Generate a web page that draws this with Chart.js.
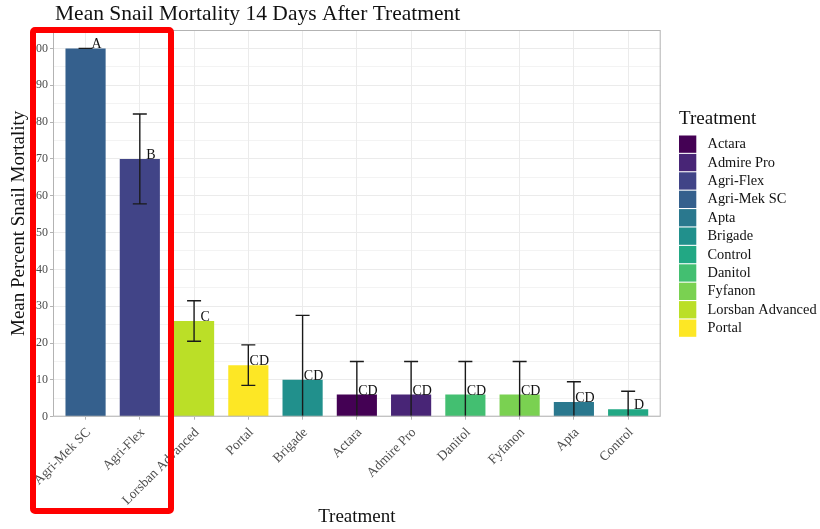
<!DOCTYPE html>
<html>
<head>
<meta charset="utf-8">
<script src="https://cdn.jsdelivr.net/npm/chart.js@4"></script>
<style>
  body { margin: 0; background: #fff; }
  #wrap { position: relative; width: 820px; height: 529px; }
  #redBox {
    position: absolute; left: 30px; top: 27px; width: 144px; height: 487px;
    box-sizing: border-box; border: 6px solid #ff0000; border-radius: 5px;
    pointer-events: none;
  }
</style>
</head>
<body>
<div id="wrap">
  <canvas id="mortalityChart" width="820" height="529"></canvas>
  <div id="redBox"></div>
</div>
<script>
// data
var treatments = ['Agri-Mek SC', 'Agri-Flex', 'Lorsban Advanced', 'Portal', 'Brigade', 'Actara',
                  'Admire Pro', 'Danitol', 'Fyfanon', 'Apta', 'Control'];
var meanMortality = [100, 70, 26, 14, 10, 6, 6, 6, 6, 4, 2];
var errMortality = [0, 12.2, 5.5, 5.5, 17.5, 9, 9, 9, 9, 5.5, 4.9];
var groupLetters = ['A', 'B', 'C', 'CD', 'CD', 'CD', 'CD', 'CD', 'CD', 'CD', 'D'];
var barColors = ['#35608D', '#414487', '#BBDF27', '#FDE725', '#21908C', '#440154',
                 '#482576', '#43BF71', '#7AD151', '#2A788E', '#22A884'];
var legendOrder = ['Actara', 'Admire Pro', 'Agri-Flex', 'Agri-Mek SC', 'Apta', 'Brigade',
                   'Control', 'Danitol', 'Fyfanon', 'Lorsban Advanced', 'Portal'];
var yTicks = [0, 5, 10, 15, 20, 25, 30, 35, 40, 45, 50, 55, 60, 65, 70, 75, 80, 85, 90, 95, 100];

var serif = '"Liberation Serif", "DejaVu Serif", serif';

// error bars, letters, title, legend and panel border
var extrasPlugin = {
    id: 'extras',
    afterDatasetsDraw: function(chart) {
        var ctx = chart.ctx;
        var xs = chart.scales.x, ys = chart.scales.y;
        var area = chart.chartArea;
        ctx.save();
        ctx.beginPath();
        ctx.rect(area.left, area.top, area.right - area.left, area.bottom - area.top);
        ctx.clip();
        ctx.strokeStyle = '#1a1a1a';
        ctx.lineWidth = 1.4;
        for (var i = 0; i < treatments.length; i++) {
            var x = xs.getPixelForValue(i);
            var yHi = ys.getPixelForValue(meanMortality[i] + errMortality[i]);
            var yLo = ys.getPixelForValue(meanMortality[i] - errMortality[i]);
            ctx.beginPath();
            ctx.moveTo(x, yHi); ctx.lineTo(x, yLo);
            ctx.moveTo(x - 7, yHi); ctx.lineTo(x + 7, yHi);
            ctx.moveTo(x - 7, yLo); ctx.lineTo(x + 7, yLo);
            ctx.stroke();
        }
        ctx.restore();

        ctx.save();
        ctx.fillStyle = '#111';
        ctx.font = '14px ' + serif;
        ctx.textAlign = 'center';
        ctx.textBaseline = 'alphabetic';
        for (var j = 0; j < treatments.length; j++) {
            ctx.fillText(groupLetters[j], xs.getPixelForValue(j) + 11, ys.getPixelForValue(meanMortality[j]));
        }
        ctx.restore();
    },
    afterDraw: function(chart) {
        var ctx = chart.ctx;
        var area = chart.chartArea;
        ctx.save();
        ctx.strokeStyle = '#b3b3b3';
        ctx.lineWidth = 1;
        ctx.strokeRect(area.left + 0.5, area.top + 0.5, area.right - area.left - 1, area.bottom - area.top - 1);

        // title
        ctx.fillStyle = '#111';
        ctx.font = '21.5px ' + serif;
        ctx.textAlign = 'left';
        ctx.textBaseline = 'alphabetic';
        ctx.fillText('Mean Snail Mortality 14 Days After Treatment', 55, 20);

        // legend
        ctx.font = '19px ' + serif;
        ctx.textBaseline = 'middle';
        ctx.fillText('Treatment', 679, 119);
        ctx.font = '14.4px ' + serif;
        for (var k = 0; k < legendOrder.length; k++) {
            var top = 135.5 + k * 18.4;
            ctx.fillStyle = barColors[treatments.indexOf(legendOrder[k])];
            ctx.fillRect(679, top, 17.3, 17.3);
            ctx.fillStyle = '#111';
            ctx.fillText(legendOrder[k], 707.5, top + 9);
        }
        ctx.restore();
    }
};

var chart = new Chart(document.getElementById('mortalityChart').getContext('2d'), {
    type: 'bar',
    data: {
        datasets: [{
            data: treatments.map(function(t, i) { return {x: i, y: meanMortality[i]}; }),
            backgroundColor: barColors,
            borderWidth: 0,
            categoryPercentage: 1,
            barPercentage: 0.74
        }]
    },
    options: {
        responsive: false,
        animation: false,
        layout: { padding: { top: 30, right: 159.3, left: 0, bottom: 0 } },
        plugins: {
            legend: { display: false },
            tooltip: { enabled: false }
        },
        scales: {
            x: {
                type: 'linear',
                offset: false,
                min: -0.6,
                max: 10.6,
                afterBuildTicks: function(axis) {
                    axis.ticks = treatments.map(function(t, i) { return {value: i}; });
                },
                afterFit: function(axis) { axis.height = 112.3; },
                grid: { offset: false, color: '#ebebeb', lineWidth: 1, tickLength: 3, tickColor: '#b3b3b3' },
                border: { display: false },
                ticks: {
                    autoSkip: false,
                    minRotation: 45,
                    maxRotation: 45,
                    padding: 5,
                    labelOffset: 3,
                    color: '#4d4d4d',
                    font: { family: serif, size: 13.5 },
                    callback: function(v) { return treatments[v]; }
                },
                title: {
                    display: true,
                    text: 'Treatment',
                    color: '#111',
                    font: { family: serif, size: 19 },
                    padding: { top: 0, bottom: 1 }
                }
            },
            y: {
                min: 0,
                max: 105,
                afterBuildTicks: function(axis) {
                    axis.ticks = yTicks.map(function(v) { return {value: v}; });
                },
                afterFit: function(axis) { axis.width = 53; },
                grid: {
                    color: '#ebebeb',
                    lineWidth: function(c) { return c.tick && c.tick.value % 10 ? 0.6 : 1; },
                    tickLength: 3,
                    tickColor: function(c) { return c.tick && c.tick.value % 10 ? 'rgba(0,0,0,0)' : '#b3b3b3'; }
                },
                border: { display: false },
                ticks: {
                    padding: 2,
                    color: '#4d4d4d',
                    font: { family: serif, size: 12 },
                    callback: function(v) { return v % 10 === 0 ? v : ''; }
                },
                title: {
                    display: true,
                    text: 'Mean Percent Snail Mortality',
                    color: '#111',
                    font: { family: serif, size: 19 },
                    padding: { top: 8, bottom: 0 }
                }
            }
        }
    },
    plugins: [extrasPlugin]
});
</script>
</body>
</html>
